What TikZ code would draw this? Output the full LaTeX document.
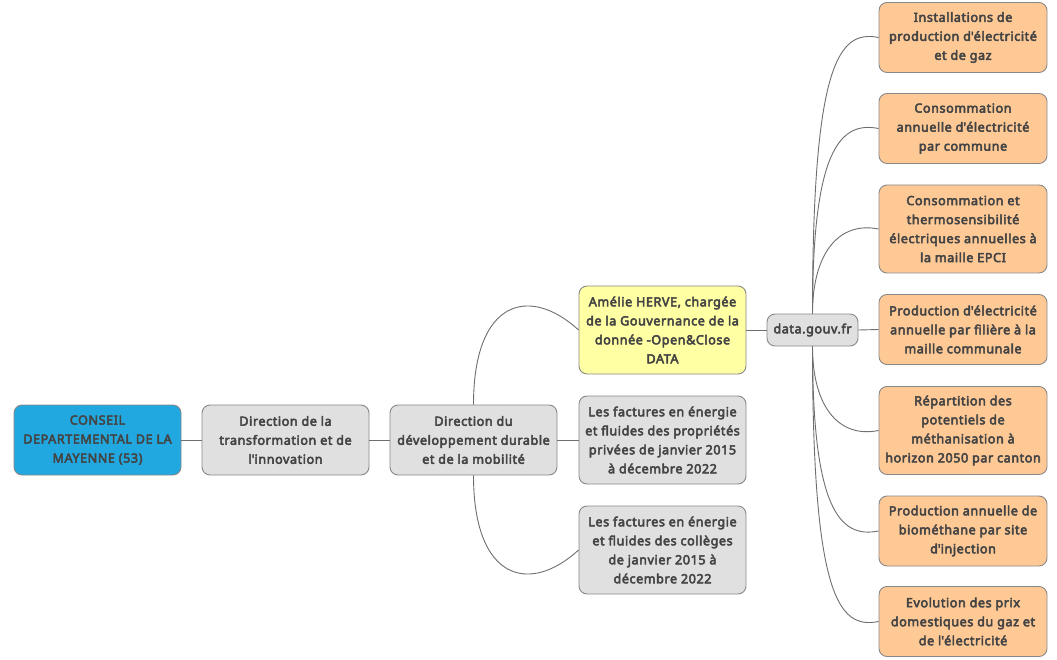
\documentclass[tikz,border=0pt]{standalone}
\usepackage{fontspec}
\setmainfont{Noto Sans}[BoldFont={Noto Sans},BoldFeatures={FakeBold=4,LetterSpace=4.5}]
\definecolor{txt}{HTML}{444444}
\definecolor{bord}{HTML}{888888}
\definecolor{link}{HTML}{6E6E6E}
\definecolor{blue}{HTML}{22A8E0}
\definecolor{grayf}{HTML}{E0E0E0}
\definecolor{yell}{HTML}{FFFFA3}
\definecolor{oran}{HTML}{FFC996}
\newcommand{\q}{\textquotesingle}
\begin{document}
\begin{tikzpicture}[x=1pt,y=-1pt,
  box/.style={rectangle,rounded corners=8pt,draw=bord,line width=0.9pt,inner sep=0pt,
    minimum width=167pt,align=center,text=txt,
    font=\bfseries\fontsize{12.6}{19}\selectfont},
  three/.style={minimum height=70pt},
  four/.style={minimum height=88pt},
  conn/.style={draw=link,line width=0.9pt}]
\useasboundingbox (0,0) rectangle (1057,660);
% nodes
\node[box,three,fill=blue] (root) at (97.5,440) {CONSEIL\\DEPARTEMENTAL DE LA\\MAYENNE (53)};
\node[box,three,fill=grayf] (dir) at (285.5,440) {Direction de la\\transformation et de\\l\q innovation};
\node[box,three,fill=grayf] (dev) at (473.5,440) {Direction du\\développement durable\\et de la mobilité};
\node[box,four,fill=yell] (ame) at (662.5,330) {Amélie HERVE, chargée\\de la Gouvernance de la\\donnée -Open\&Close\\DATA};
\node[box,four,fill=grayf] (fp) at (662.5,440) {Les factures en énergie\\et fluides des propriétés\\privées de janvier 2015\\à décembre 2022};
\node[box,four,fill=grayf] (fc) at (662.5,550) {Les factures en énergie\\et fluides des collèges\\de janvier 2015 à\\décembre 2022};
\node[box,fill=grayf,minimum width=91pt,minimum height=32pt] (data) at (812.5,330) {data.gouv.fr};
\node[box,three,fill=oran,minimum width=168pt] (o1) at (963,37.5) {Installations de\\production d\q électricité\\et de gaz};
\node[box,three,fill=oran,minimum width=168pt] (o2) at (963,128.5) {Consommation\\annuelle d\q électricité\\par commune};
\node[box,four,fill=oran,minimum width=168pt] (o3) at (963,229) {Consommation et\\thermosensibilité\\électriques annuelles à\\la maille EPCI};
\node[box,three,fill=oran,minimum width=168pt] (o4) at (963,329.5) {Production d\q électricité\\annuelle par filière à la\\maille communale};
\node[box,four,fill=oran,minimum width=168pt] (o5) at (963,430.5) {Répartition des\\potentiels de\\méthanisation à\\horizon 2050 par canton};
\node[box,three,fill=oran,minimum width=168pt] (o6) at (963,531) {Production annuelle de\\biométhane par site\\d\q injection};
\node[box,three,fill=oran,minimum width=168pt] (o7) at (963,621.5) {Evolution des prix\\domestiques du gaz et\\de l\q électricité};
% connectors
\draw[conn] (root.east) -- (dir.west);
\draw[conn] (dir.east) -- (dev.west);
\draw[conn] (dev.north) .. controls +(0,-105) and +(-49,-45) .. (ame.west);
\draw[conn] (dev.east) -- (fp.west);
\draw[conn] (dev.south) .. controls +(0,105) and +(-49,45) .. (fc.west);
\draw[conn] (ame.east) -- (data.west);
\draw[conn] (data.north) .. controls +(0,-250) and +(-40,-8) .. (o1.west);
\draw[conn] (data.north) .. controls +(0,-160) and +(-40,-8) .. (o2.west);
\draw[conn] (data.north) .. controls +(0,-60) and +(-40,-8) .. (o3.west);
\draw[conn] (data.east) -- (o4.west);
\draw[conn] (data.south) .. controls +(0,60) and +(-40,8) .. (o5.west);
\draw[conn] (data.south) .. controls +(0,160) and +(-40,8) .. (o6.west);
\draw[conn] (data.south) .. controls +(0,250) and +(-40,8) .. (o7.west);
\end{tikzpicture}
\end{document}
